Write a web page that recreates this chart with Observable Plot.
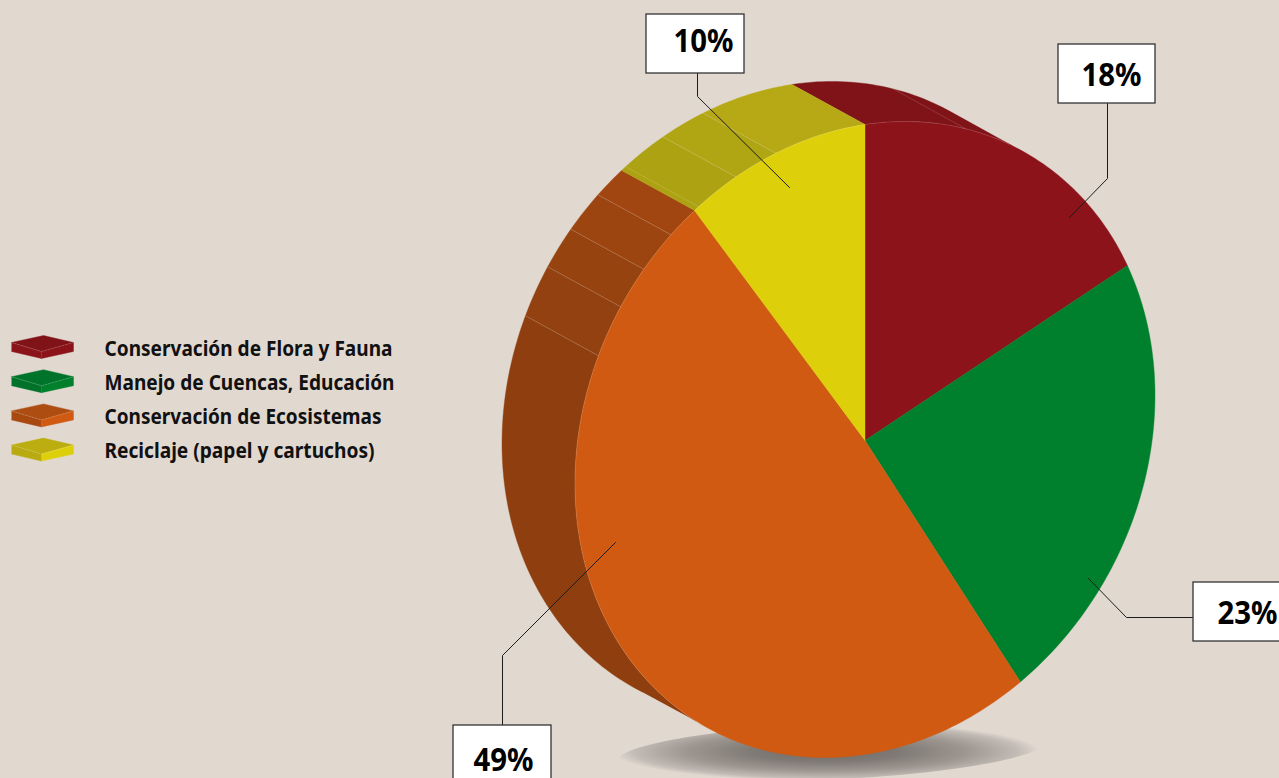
<!DOCTYPE html>
<html><head><meta charset="utf-8">
<script src="https://cdn.jsdelivr.net/npm/d3@7"></script>
<script src="https://cdn.jsdelivr.net/npm/@observablehq/plot@0.6"></script>
<style>html,body{margin:0;padding:0;background:#e1d8d0;overflow:hidden}</style>
</head><body><div id="chart"></div>
<script>
const categories = ["Conservación de Flora y Fauna","Manejo de Cuencas, Educación","Conservación de Ecosistemas","Reciclaje (papel y cartuchos)"];
const values = [18,23,49,10];
const labels = ["18%","23%","49%","10%"];
const topColors = ["#8c131a","#00802d","#d05a12","#ddd00b"];
const sideColors = ["#7f1317","#00651f","#92400f","#b5a815"];
const swatchTop = ["#7f1317","#00732a","#ad4d11","#bcae10"];
const swatchLeft = ["#8a1419","#00722a","#a84a10","#b8aa10"];
// side facets, degrees clockwise from the top, with their shades
const facetEdges = [147.6,293.2,302.6,310.3,318,324,333.6,342.1,360];
const facetFills = ["#8f3e0f","#934110","#974310","#9c4510","#a14610","#ada212","#b0a513","#b6a915"];
const facetRules = [20.4,293.2,302.6,310.3,318,325,333.6,342.1];

// layout
const W=1279,H=778, cx=864.5, cy=439, pivotY=440, rx=290, ryy=315, skew=44, dx=-73, dy=-40;
const pt=(deg,ox=0,oy=0)=>{const t=deg*Math.PI/180;const s=Math.sin(t),c=Math.cos(t);
  return {x:cx+ox+rx*s,y:cy+oy-skew*s-ryy*c};};
const arc=(a,b,ox=0,oy=0)=>{const n=Math.max(2,Math.ceil(Math.abs(b-a)));return d3.range(n+1).map(i=>pt(a+(b-a)*i/n,ox,oy));};
const pie=d3.pie().sort(null)(values);
const deg=r=>r*180/Math.PI;
const poly=(pts,fill,extra={})=>Plot.line(pts,{x:"x",y:"y",fill,stroke:fill,strokeWidth:0.4,curve:"linear",...extra});

const sideMarks=[];
// dark red side: its back edge runs straight into the front rim
sideMarks.push(poly([...arc(0,30.5),...arc(33,0,dx,dy)],sideColors[0]));
facetFills.forEach((f,i)=>{const a=facetEdges[i],b=facetEdges[i+1];
  const pts = i===0 ? [...arc(215.7,b),...arc(b,211,dx,dy)] : [...arc(a,b),...arc(b,a,dx,dy)];
  sideMarks.push(poly(pts,f));});
const ruleMarks=facetRules.map(a=>Plot.line([pt(a),pt(a,dx,dy)],{x:"x",y:"y",stroke:"#fff",strokeOpacity:0.18,strokeWidth:0.8}));
const topMarks=pie.map((p,i)=>poly([{x:cx,y:pivotY},...arc(deg(p.startAngle),deg(p.endAngle)),{x:cx,y:pivotY}],topColors[i]));
const edge=Plot.line(arc(215,390),{x:"x",y:"y",stroke:"#fff",strokeOpacity:0.18,strokeWidth:0.7});

// shadow
const shadowPts=d3.range(0,361,3).map(a=>{const t=a*Math.PI/180,c=Math.cos(t),s=Math.sin(t);
  return {x:830+213.5*c,y:751-9.5*c+28*s};});
const defs=()=>{const s=d3.create("svg:g");
  const g=s.append("defs").append("radialGradient").attr("id","shade").attr("cx","0.49").attr("cy","0.5").attr("r","0.5");
  [[0,"#6f6a65"],[0.35,"#7f7a75"],[0.65,"#9d9690"],[0.9,"#c3bbb5"],[1,"#e1d8d0"]].forEach(([o,c])=>g.append("stop").attr("offset",o).attr("stop-color",c));
  return s.node();};

// callouts
const boxes=[[1058,44,1155,103],[1193,582,1290,641],[453,725,551,790],[646,14,744,73]];
const leaders=[[[1107,103],[1107,178],[1069,217]],[[1193,617],[1126,617],[1088,578]],[[502,725],[502,655],[615,542]],[[697,73],[697,96],[789,187]]];
const labelPos=[[1111,85],[1247,623],[503,770],[703,51]];
const boxData=boxes.map(b=>({x1:b[0],y1:b[1],x2:b[2],y2:b[3]}));
const labelData=labels.map((t,i)=>({t,x:labelPos[i][0],y:labelPos[i][1]}));
const leaderMarks=leaders.map(l=>Plot.line(l,{x:d=>d[0],y:d=>d[1],stroke:"#1c1c1c",strokeWidth:1}));

// legend
const rowY=[0,34.2,68.4,102.6];
const legendWidths=[288,290,277,270];
const legendX=104, legendY=355;
const swatches=[];
rowY.forEach((o,i)=>{const y=v=>v+o;
  const P=(a)=>a.map(([x,v])=>({x,y:y(v)}));
  swatches.push(poly(P([[11,342],[43,335],[73,342],[41,351]]),swatchTop[i]));
  swatches.push(poly(P([[11,342],[41,351],[41,358],[11,351]]),swatchLeft[i]));
  swatches.push(poly(P([[41,351],[73,342],[73,351],[41,358]]),topColors[i]));
  swatches.push(Plot.line(P([[11,342],[41,351],[73,342]]),{x:"x",y:"y",stroke:"#fff",strokeOpacity:0.3,strokeWidth:0.6,strokeDasharray:"2 1.5"}));
});
const legendData=categories.map((t,i)=>({t,x:legendX,y:legendY+rowY[i]}));

const chart=Plot.plot({width:W,height:H,margin:0,
  x:{domain:[0,W],range:[0,W],axis:null},y:{domain:[0,H],range:[0,H],axis:null},
  style:{background:"#e1d8d0",fontFamily:"'Noto Sans',sans-serif"},
  marks:[defs,
    Plot.line(shadowPts,{x:"x",y:"y",fill:"url(#shade)",stroke:"none",curve:"linear"}),
    ...sideMarks,...ruleMarks,...topMarks,edge,
    ...leaderMarks,
    Plot.rect(boxData,{x1:"x1",x2:"x2",y1:"y1",y2:"y2",fill:"#fff",stroke:"#333",strokeWidth:1.3}),
    Plot.text(labelData,{x:"x",y:"y",text:"t",fontSize:33,fontWeight:"bold",fill:"#000",lineAnchor:"bottom",textAnchor:"middle",className:"pct"}),
    ...swatches,
    Plot.text(legendData,{x:"x",y:"y",text:"t",fontSize:21,fontWeight:"bold",fill:"#111",textAnchor:"start",lineAnchor:"bottom",className:"leg"})
  ]});
document.getElementById("chart").append(chart);
// condense the bold face to the reference's narrow letter widths
d3.select(chart).selectAll("g.leg text").each(function(_,i){this.setAttribute("textLength",legendWidths[i]);this.setAttribute("lengthAdjust","spacingAndGlyphs");});
d3.select(chart).selectAll("g.pct text").each(function(){this.setAttribute("textLength",60);this.setAttribute("lengthAdjust","spacingAndGlyphs");});
</script></body></html>
